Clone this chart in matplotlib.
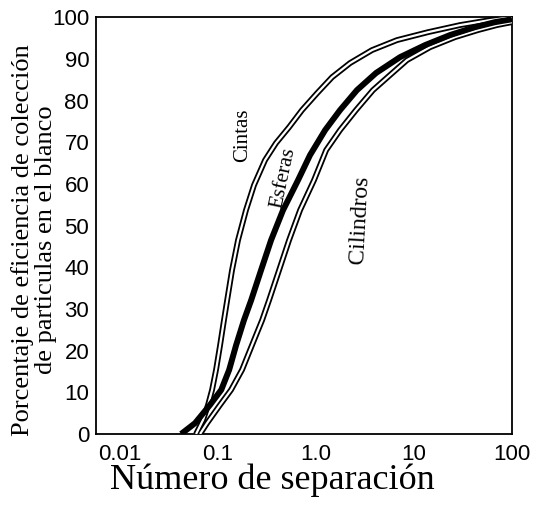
import matplotlib
matplotlib.use("Agg")
import matplotlib.pyplot as plt
from matplotlib.ticker import FixedLocator, NullLocator

# Datos (numero de separacion, % de eficiencia)
cintas_x = [0.0597, 0.0704, 0.0792, 0.0870, 0.0955, 0.105, 0.115, 0.124,
            0.139, 0.160, 0.193, 0.233, 0.302, 0.391, 0.531, 0.720,
            1.03, 1.46, 2.23, 3.73, 6.71, 13.9, 29.5, 59.7, 100]
cintas_y = [0, 3.4, 7.0, 10.6, 15.4, 21.3, 27.3, 32.1,
            39.3, 46.5, 53.7, 59.7, 65.7, 69.8, 73.6, 77.7,
            81.8, 85.6, 89.0, 92.1, 94.5, 96.4, 98.1, 99.3, 100]

esferas_x = [0.0420, 0.0583, 0.0830, 0.108, 0.130, 0.153, 0.184, 0.218,
             0.275, 0.348, 0.461, 0.656, 0.869, 1.24, 1.76, 2.62,
             4.10, 7.20, 13.0, 23.3, 41.9, 67.1, 100]
esferas_y = [0, 2.6, 7.0, 10.6, 15.4, 21.3, 27.3, 32.1,
             39.3, 46.5, 53.7, 60.9, 66.9, 72.9, 77.7, 82.5,
             86.6, 90.4, 93.3, 95.7, 97.6, 98.8, 99.5]

cilindros_x = [0.0656, 0.0773, 0.105, 0.136, 0.176, 0.233, 0.282, 0.332,
               0.420, 0.531, 0.688, 0.955, 1.27, 1.76, 2.56, 3.82,
               5.69, 8.49, 14.6, 26.2, 45.0, 70.3, 100]
cilindros_y = [0, 2.6, 7.0, 10.6, 15.4, 22.5, 27.3, 32.1,
               39.3, 46.5, 53.7, 60.9, 68.1, 72.9, 77.7, 82.5,
               86.1, 89.7, 92.8, 95.2, 96.9, 98.1, 98.8]

x_ticks = [0.01, 0.1, 1.0, 10, 100]
x_tick_labels = ["0.01", "0.1", "1.0", "10", "100"]
y_ticks = [0, 10, 20, 30, 40, 50, 60, 70, 80, 90, 100]

sans = ["Liberation Sans", "DejaVu Sans"]
serif = ["Liberation Serif", "DejaVu Serif"]

fig = plt.figure(figsize=(5.4, 5.05), dpi=100)
ax = fig.add_axes([0.178, 0.1406, 0.770, 0.8254])


def linea_doble(x, y):
    # linea negra con centro blanco
    ax.plot(x, y, color="black", lw=4.2, solid_capstyle="butt",
            solid_joinstyle="round", zorder=3)
    ax.plot(x, y, color="white", lw=1.6, solid_capstyle="butt",
            solid_joinstyle="round", zorder=4)


linea_doble(cintas_x, cintas_y)
linea_doble(cilindros_x, cilindros_y)
ax.plot(esferas_x, esferas_y, color="black", lw=4.3, solid_capstyle="butt",
        solid_joinstyle="round", zorder=5)

ax.set_xscale("log")
ax.set_xlim(0.0057, 100)
ax.set_ylim(0, 100)

ax.xaxis.set_major_locator(FixedLocator(x_ticks))
ax.xaxis.set_minor_locator(NullLocator())
ax.set_xticklabels(x_tick_labels, fontfamily=sans, fontsize=16)
ax.set_yticks(y_ticks)
ax.set_yticklabels([str(v) for v in y_ticks], fontfamily=sans, fontsize=16)
ax.tick_params(axis="both", length=0)
ax.tick_params(axis="x", pad=7)
ax.tick_params(axis="y", pad=5)

for s in ax.spines.values():
    s.set_linewidth(1.3)
    s.set_color("black")

ax.set_xlabel("Número de separación", fontfamily=serif, fontsize=26)
ax.xaxis.set_label_coords(0.423, -0.07)
ax.set_ylabel("Porcentaje de eficiencia de colección\nde particulas en el blanco",
              fontfamily=serif, fontsize=19, linespacing=1.05)
ax.yaxis.set_label_coords(-0.094, 0.465)

ax.text(0.180, 71.7, "Cintas", rotation=90, ha="center", va="center",
        fontfamily=serif, fontsize=15, zorder=6)
ax.text(0.461, 61.4, "Esferas", rotation=78, ha="center", va="center",
        fontfamily=serif, fontsize=15, zorder=6)
ax.text(2.81, 51.3, "Cilindros", rotation=87, ha="center", va="center",
        fontfamily=serif, fontsize=17, zorder=6)

fig.savefig("out.png", dpi=100)
